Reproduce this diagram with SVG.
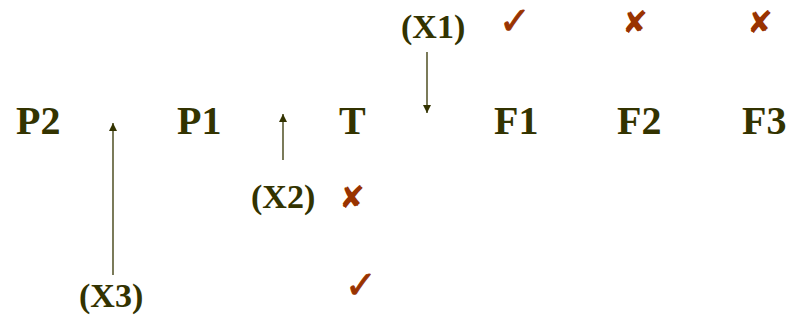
<svg xmlns="http://www.w3.org/2000/svg" width="795" height="320" viewBox="0 0 795 320">
<style>
.n{font-family:'Liberation Serif',Tinos,'Times New Roman',Times,serif;font-weight:700;font-size:40px;fill:#333300}
.x{font-family:'Liberation Serif',Tinos,'Times New Roman',Times,serif;font-weight:700;font-size:34px;fill:#333300}
.m{font-family:'DejaVu Sans',sans-serif;font-size:31px;fill:#993300;text-anchor:middle}
.k{font-family:'DejaVu Sans',sans-serif;font-size:38px;fill:#993300;stroke:#993300;stroke-width:0.9;text-anchor:middle}
.c{stroke:#333300;stroke-width:1.3;fill:none}
</style>
<defs>
<marker id="ah" viewBox="0 0 10 10" refX="10" refY="5" markerWidth="10" markerHeight="8" markerUnits="userSpaceOnUse" orient="auto">
<path d="M0,0 L10,5 L0,10 z" fill="#333300"/>
</marker>
</defs>
<rect width="795" height="320" fill="#ffffff"/>
<g id="P2"><text class="n" x="16" y="134">P2</text></g>
<g id="P1"><text class="n" x="177" y="134">P1</text></g>
<g id="T"><text class="n" x="339" y="134">T</text></g>
<g id="F1"><text class="n" x="494" y="134">F1</text></g>
<g id="F2"><text class="n" x="617" y="134">F2</text></g>
<g id="F3"><text class="n" x="742" y="134">F3</text></g>
<g id="X1"><text class="x" x="401" y="38">(X1)</text></g>
<g id="X2"><text class="x" x="251" y="208">(X2)</text></g>
<g id="X3"><text class="x" x="79" y="307">(X3)</text></g>
<g id="marks">
<text class="k" x="515" y="34">✓</text>
<text class="m" x="635" y="33">✘</text>
<text class="m" x="760" y="33">✘</text>
<text class="m" x="352" y="208">✘</text>
<text class="k" x="361" y="298">✓</text>
</g>
<g id="connectors">
<line class="c" x1="427" y1="52" x2="427" y2="113" marker-end="url(#ah)"/>
<line class="c" x1="283" y1="160" x2="283" y2="114" marker-end="url(#ah)"/>
<line class="c" x1="113" y1="275" x2="113" y2="123" marker-end="url(#ah)"/>
</g>
</svg>
